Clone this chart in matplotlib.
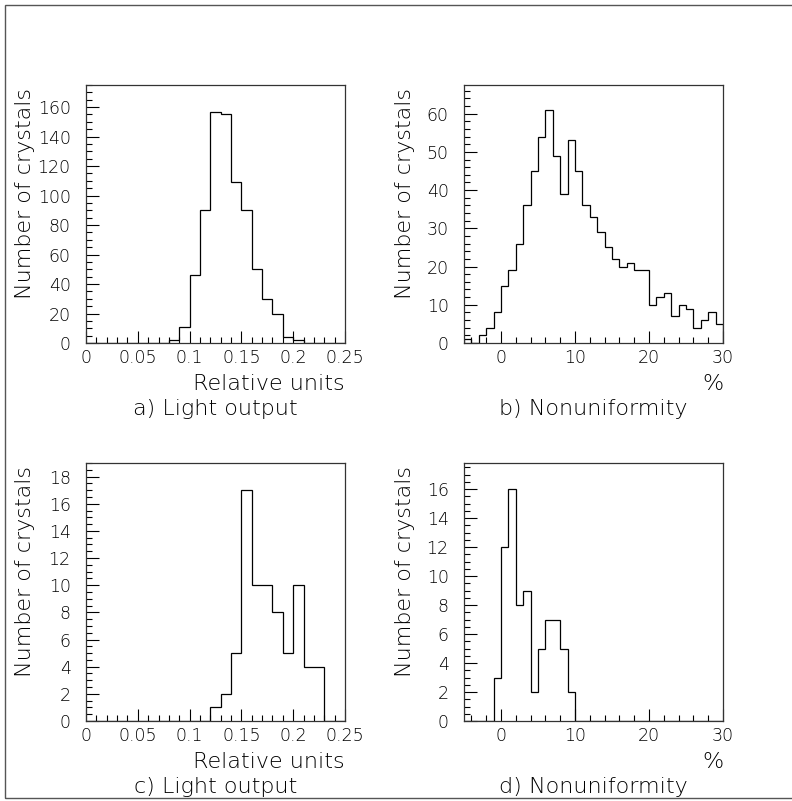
import numpy as np
import matplotlib
matplotlib.use('Agg')
import matplotlib.pyplot as plt
from matplotlib.patches import Rectangle
from matplotlib.ticker import MultipleLocator, FormatStrFormatter

plt.rcParams['font.family'] = ['DejaVu Sans']
plt.rcParams['font.weight'] = 'light'
plt.rcParams['axes.labelweight'] = 'light'

# light output, bins of 0.01 from 0 to 0.25
light_edges = np.round(np.arange(0, 0.2501, 0.01), 2)
light_all = [0, 0, 0, 0, 0, 0, 0, 0, 2, 11, 46, 90, 157, 155, 109, 90, 50, 30, 20, 4, 2, 0, 0, 0, 0]
light_sel = [0, 0, 0, 0, 0, 0, 0, 0, 0, 0, 0, 0, 1, 2, 5, 17, 10, 10, 8, 5, 10, 4, 4, 0, 0]

# nonuniformity, bins of 1 % from -5 to 30
nonu_edges = np.arange(-5, 31, 1)
nonu_all = [1, 0, 2, 4, 8, 15, 19, 26, 36, 45, 54, 61, 49, 39, 53, 45, 36, 33, 29, 25,
            22, 20, 21, 19, 19, 10, 12, 13, 7, 10, 9, 4, 6, 8, 5]
nonu_sel = [0, 0, 0, 0, 3, 12, 16, 8, 9, 2, 5, 7, 7, 5, 2] + [0] * 20

captions = ['a) Light output', 'b) Nonuniformity', 'c) Light output', 'd) Nonuniformity']

W, H = 792, 801
fig = plt.figure(figsize=(W / 100, H / 100), dpi=100)

def make_ax(x0, ytop):
    return fig.add_axes([x0 / W, (H - ytop - 258) / H, 259 / W, 258 / H])

axes = [make_ax(86, 85), make_ax(464, 85), make_ax(86, 463), make_ax(464, 463)]

panels = [
    (light_edges, light_all, (0, 0.25), 175, 0.05, 0.01, 20, 5, 'Relative units', -0.196),
    (nonu_edges, nonu_all, (-5, 30), 67.5, 10, 2, 10, 2, '%', -0.189),
    (light_edges, light_sel, (0, 0.25), 19.0, 0.05, 0.01, 2, 0.5, 'Relative units', -0.196),
    (nonu_edges, nonu_sel, (-5, 30), 17.8, 10, 2, 2, 0.5, '%', -0.189),
]

for ax, (edges, vals, xlim, ymax, xmaj, xmin, ymaj, ymin, xlab, ylx), cap in zip(axes, panels, captions):
    ax.stairs(vals, edges, color='black', linewidth=0.9, baseline=0)
    ax.set_xlim(*xlim)
    ax.set_ylim(0, ymax)
    ax.xaxis.set_major_locator(MultipleLocator(xmaj))
    ax.xaxis.set_minor_locator(MultipleLocator(xmin))
    ax.yaxis.set_major_locator(MultipleLocator(ymaj))
    ax.yaxis.set_minor_locator(MultipleLocator(ymin))
    ax.xaxis.set_major_formatter(FormatStrFormatter('%g'))
    ax.yaxis.set_major_formatter(FormatStrFormatter('%g'))
    ax.tick_params(which='both', direction='in', top=False, right=False, width=0.8, labelsize=12.5,
                   labelcolor='black')
    ax.tick_params(axis='x', which='major', length=8.5, pad=4)
    ax.tick_params(axis='y', which='major', length=9.5, pad=11)
    ax.tick_params(which='minor', length=4.5)
    for sp in ax.spines.values():
        sp.set_linewidth(0.9)
        sp.set_color('#333333')
    ax.set_xlabel(xlab, loc='right', fontsize=16)
    ax.xaxis.set_label_coords(1.0, -0.120)
    ax.set_ylabel('Number of crystals', loc='top', fontsize=16)
    ax.yaxis.set_label_coords(ylx, 0.99)
    ax.text(0.5, -0.254, cap, transform=ax.transAxes, ha='center', va='center', fontsize=16)

# outer frame of the picture
fig.add_artist(Rectangle((5 / W, 3 / H), 1.0, 793 / H, transform=fig.transFigure,
                         fill=False, linewidth=1.0, edgecolor='#555555'))

fig.savefig('out.png', dpi=100)
